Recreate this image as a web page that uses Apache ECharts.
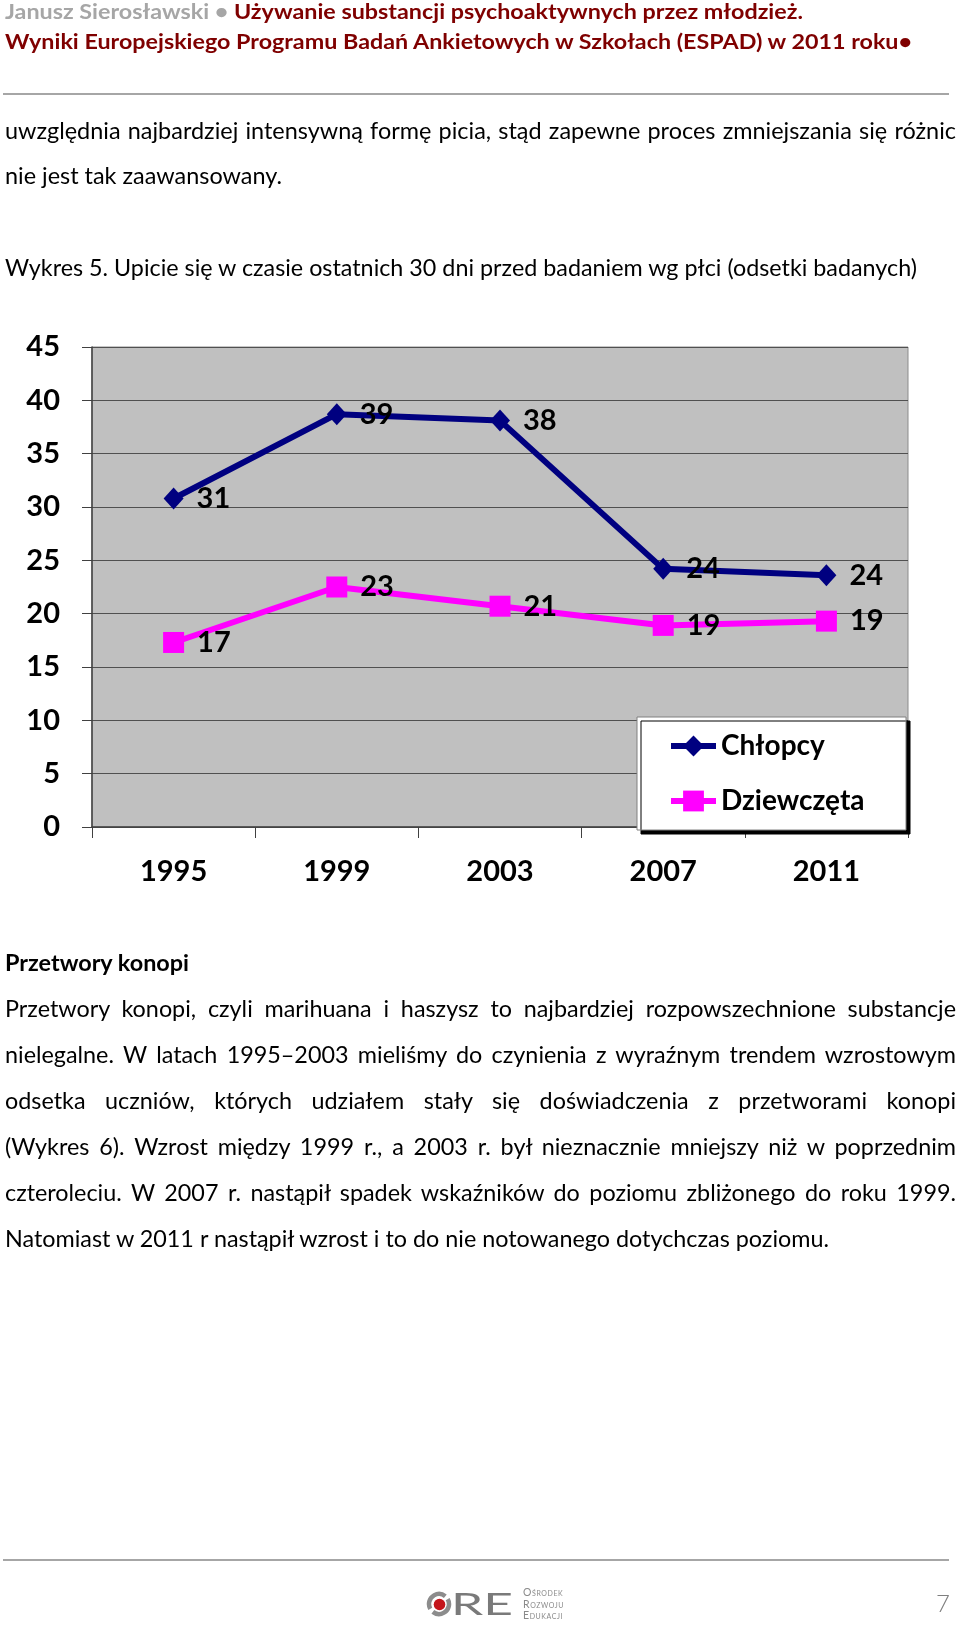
<!DOCTYPE html>
<html><head><meta charset="utf-8">
<script src="https://cdn.jsdelivr.net/npm/echarts@6/dist/echarts.min.js"></script>
<style>
html,body{margin:0;padding:0;background:#fff;}
#page{position:relative;width:960px;height:1625px;overflow:hidden;font-family:Lato,'Liberation Sans',sans-serif;background:#fff;}
#chart{position:absolute;left:0;top:0;width:960px;height:1625px;}
.ln{position:absolute;left:5px;white-space:nowrap;transform-origin:0 50%;line-height:30px;height:30px;}
.rule{position:absolute;height:2px;background:#a6a6a6;}
</style></head>
<body><div id="page"><div id="chart"></div>
<div class="rule" style="left:3px;width:946px;top:93px;"></div>
<div class="rule" style="left:3px;width:946px;top:1559px;"></div>
<svg style="position:absolute;left:425px;top:1590px;" width="28" height="28" viewBox="0 0 28 28">
  <circle cx="14" cy="14" r="10" fill="none" stroke="#8c8c8c" stroke-width="4.5" stroke-dasharray="27.4 4" transform="rotate(-30 14 14)"/>
  <circle cx="14.5" cy="14.5" r="5.8" fill="#c4161c"/>
</svg>
</div>
<script>
// ---------- chart data ----------
const years = ['1995', '1999', '2003', '2007', '2011'];
const chlopcy = [30.8, 38.7, 38.1, 24.2, 23.6];
const dziewczeta = [17.3, 22.5, 20.7, 18.9, 19.3];
const seriesNames = ['Chłopcy', 'Dziewczęta'];
const yMin = 0, yMax = 45, yStep = 5;

// ---------- page texts ----------
const header1 = [['Janusz Sierosławski • ', '#a6a6a6'], ['Używanie substancji psychoaktywnych przez młodzież.', '#7f0000']];
const header2 = 'Wyniki Europejskiego Programu Badań Ankietowych w Szkołach (ESPAD) w 2011 roku•';
const intro = ['uwzględnia najbardziej intensywną formę picia, stąd zapewne proces zmniejszania się różnic',
               'nie jest tak zaawansowany.'];
const caption = 'Wykres 5. Upicie się w czasie ostatnich 30 dni przed badaniem wg płci (odsetki badanych)';
const heading = 'Przetwory konopi';
const para = [
  'Przetwory konopi, czyli marihuana i haszysz to najbardziej rozpowszechnione substancje',
  'nielegalne. W latach 1995–2003 mieliśmy do czynienia z wyraźnym trendem wzrostowym',
  'odsetka uczniów, których udziałem stały się doświadczenia z przetworami konopi',
  '(Wykres 6). Wzrost między 1999 r., a 2003 r. był nieznacznie mniejszy niż w poprzednim',
  'czteroleciu. W 2007 r. nastąpił spadek wskaźników do poziomu zbliżonego do roku 1999.',
  'Natomiast w 2011 r nastąpił wzrost i to do nie notowanego dotychczas poziomu.'
];
const logoWords = ['Ośrodek', 'Rozwoju', 'Edukacji'];
const pageNo = '7';

const page = document.getElementById('page');
function mk(text, cy, size, bold, color, left, fam) {
  const d = document.createElement('div');
  d.className = 'ln';
  d.style.fontSize = size + 'px';
  d.style.fontWeight = bold ? '700' : '400';
  d.style.color = color || '#000';
  d.style.top = (cy - 15 - 0.0285 * size) + 'px';
  if (left !== undefined) d.style.left = left + 'px';
  if (fam) d.style.fontFamily = fam;
  if (Array.isArray(text)) {
    text.forEach(p => { const s = document.createElement('span'); s.textContent = p[0]; s.style.color = p[1]; d.appendChild(s); });
  } else d.textContent = text;
  page.appendChild(d);
  return d;
}
function w(d) { return d.getBoundingClientRect().width; }
function fitTo(d, target) { const s = target / w(d); d.style.transform = 'scaleX(' + s + ')'; return s; }
function justify(d, target, s) {
  const n = (d.textContent.match(/ /g) || []).length;
  const ws = (target / s - w(d)) / n;
  d.style.wordSpacing = ws + 'px';
  d.style.transform = 'scaleX(' + s + ')';
}

fitTo(mk(header1, 11.5, 21, true), 798);
fitTo(mk(header2, 41.5, 21, true, '#7f0000'), 907);
const i1 = mk(intro[0], 130.6, 23, false);
const i2 = mk(intro[1], 175.2, 23, false);
const sI = fitTo(i2, 277);
justify(i1, 951, sI);
fitTo(mk(caption, 267.5, 23, false), 912);
fitTo(mk(heading, 964, 22, true), 184);
const pys = [1008.3, 1054.3, 1101, 1146.6, 1192.2, 1238.9];
const pd = para.map((t, i) => mk(t, pys[i], 23, false));
const sP = fitTo(pd[5], 824);
for (let i = 0; i < 5; i++) justify(pd[i], 951, sP);
// logo texts
const re = mk('RE', 1603.7, 30, false, '#7a7a7a', 451, 'Lato');
fitTo(re, 62);
[1592.7, 1604.3, 1615.5].forEach((cy, i) => {
  const d = mk(logoWords[i], cy, 10.5, false, '#8a8a8a', 523);
  d.style.fontVariant = 'small-caps';
  d.style.letterSpacing = '0.6px';
});
const pn = mk(pageNo, 1604, 24, false, '#7f7f7f', 936);
pn.style.fontWeight = '300';

// ---------- chart ----------
const F = "Lato, 'Liberation Sans', sans-serif";
const cnv = document.createElement('canvas').getContext('2d');
cnv.font = "bold 28px " + F;
const legendTextW = Math.max(...seriesNames.map(n => cnv.measureText(n).width));
const legendPadR = Math.max(4, 266 - 31 - 45 - 5 - legendTextW);

const chart = echarts.init(document.getElementById('chart'), null, { renderer: 'canvas' });
const lbl = { show: true, position: 'right', distance: 13, fontSize: 29, fontWeight: 'bold', color: '#000', fontFamily: F,
  formatter: p => String(Math.round(p.value)) };
chart.setOption({
  animation: false,
  grid: { left: 92, right: 52, top: 347, bottom: 798, show: true, backgroundColor: '#c0c0c0',
    borderColor: '#8c8c8c', borderWidth: 1, containLabel: false, outerBoundsMode: 'none' },
  xAxis: {
    type: 'category', data: years, boundaryGap: true,
    axisLine: { show: true, lineStyle: { color: '#404040', width: 1.5 } },
    axisTick: { show: true, length: 11, alignWithLabel: false, lineStyle: { color: '#404040', width: 1 } },
    axisLabel: { margin: 30, fontSize: 29, fontWeight: 'bold', color: '#000', fontFamily: F },
    splitLine: { show: false }
  },
  yAxis: {
    type: 'value', min: yMin, max: yMax, interval: yStep,
    axisLine: { show: true, lineStyle: { color: '#404040', width: 1.5 } },
    axisTick: { show: true, length: 10, lineStyle: { color: '#404040', width: 1 } },
    axisLabel: { margin: 32, fontSize: 29, fontWeight: 'bold', color: '#000', fontFamily: F },
    splitLine: { show: true, lineStyle: { color: '#505050', width: 1 } }
  },
  legend: {
    orient: 'vertical', left: 637, top: 717,
    padding: [15, legendPadR, 15, 31],
    itemWidth: 45, itemHeight: 26, itemGap: 27,
    backgroundColor: '#fff', borderColor: '#808080', borderWidth: 1,
    shadowColor: '#000', shadowBlur: 0, shadowOffsetX: 4, shadowOffsetY: 4,
    lineStyle: { width: 6 },
    textStyle: { fontSize: 28, fontWeight: 'bold', color: '#000', fontFamily: F, lineHeight: 28 },
    selectedMode: false,
    data: seriesNames
  },
  series: [
    { name: seriesNames[0], type: 'line', data: chlopcy, color: '#000080',
      lineStyle: { width: 6, color: '#000080' }, itemStyle: { color: '#000080' },
      symbol: 'diamond', symbolSize: [20, 22], showAllSymbol: true, label: lbl, emphasis: { disabled: true }, z: 3 },
    { name: seriesNames[1], type: 'line', data: dziewczeta, color: '#ff00ff',
      lineStyle: { width: 6, color: '#ff00ff' }, itemStyle: { color: '#ff00ff' },
      symbol: 'rect', symbolSize: 21, showAllSymbol: true, label: lbl, emphasis: { disabled: true }, z: 2 }
  ]
});
</script>
</body></html>
